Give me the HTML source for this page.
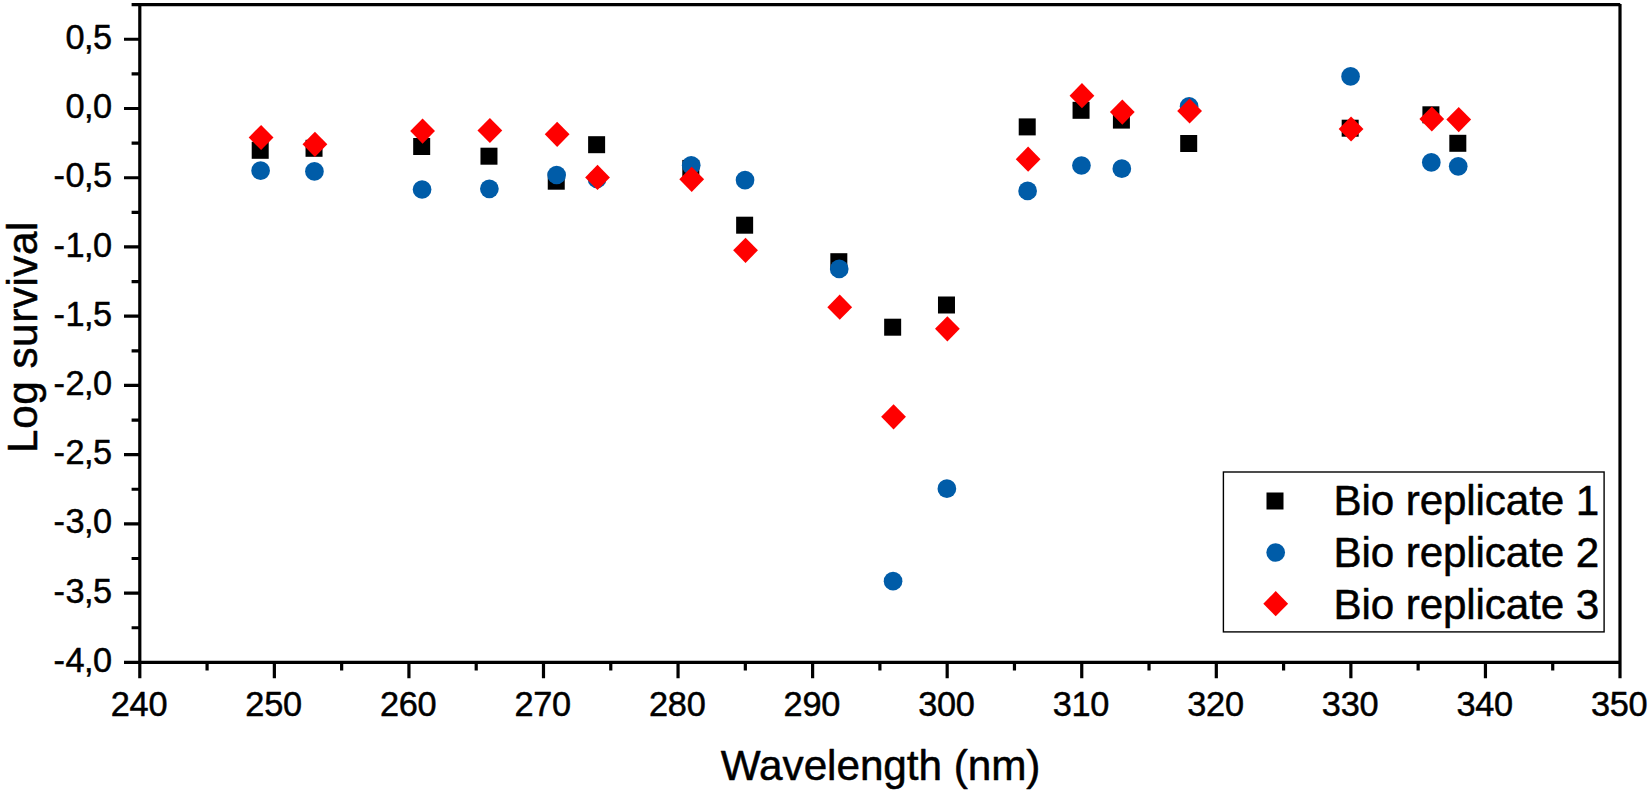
<!DOCTYPE html>
<html lang="en"><head><meta charset="utf-8"><title>Log survival vs wavelength</title>
<style>html,body{margin:0;padding:0;background:#fff;overflow:hidden}svg{display:block}text{font-family:"Liberation Sans",Arial,Helvetica,sans-serif;fill:#000;stroke:#000;stroke-width:0.5px;stroke-linejoin:round}</style>
</head><body>
<svg width="1650" height="792" viewBox="0 0 1650 792">
<rect x="0" y="0" width="1650" height="792" fill="#fff"/>
<g stroke="#000" stroke-width="3.2" fill="none" stroke-linecap="butt">
<path d="M131.60000000000002 4.65H1620.2"/>
<path d="M1620.0 3.95V678.15"/>
<path d="M139.8 3.0500000000000003V678.15"/>
<path d="M124.00000000000001 662.35H1620.0"/>
</g>
<g stroke="#000" stroke-width="3.2" fill="none">
<path d="M124.00 39.27H139.8M131.60 73.88H139.8M124.00 108.50H139.8M131.60 143.11H139.8M124.00 177.73H139.8M131.60 212.34H139.8M124.00 246.96H139.8M131.60 281.58H139.8M124.00 316.19H139.8M131.60 350.81H139.8M124.00 385.42H139.8M131.60 420.04H139.8M124.00 454.66H139.8M131.60 489.27H139.8M124.00 523.89H139.8M131.60 558.50H139.8M124.00 593.12H139.8M131.60 627.73H139.8"/>
<path d="M207.08 662.35V670.55M274.36 662.35V678.15M341.65 662.35V670.55M408.93 662.35V678.15M476.21 662.35V670.55M543.49 662.35V678.15M610.77 662.35V670.55M678.05 662.35V678.15M745.34 662.35V670.55M812.62 662.35V678.15M879.90 662.35V670.55M947.18 662.35V678.15M1014.46 662.35V670.55M1081.75 662.35V678.15M1149.03 662.35V670.55M1216.31 662.35V678.15M1283.59 662.35V670.55M1350.87 662.35V678.15M1418.15 662.35V670.55M1485.44 662.35V678.15M1552.72 662.35V670.55"/>
</g>
<g font-size="34.3" text-anchor="end" letter-spacing="-0.6">
<text x="111.4" y="48.87">0,5</text>
<text x="111.4" y="118.10">0,0</text>
<text x="111.4" y="187.33">-<tspan dx="1.3">0,5</tspan></text>
<text x="111.4" y="256.56">-<tspan dx="1.3">1,0</tspan></text>
<text x="111.4" y="325.79">-<tspan dx="1.3">1,5</tspan></text>
<text x="111.4" y="395.02">-<tspan dx="1.3">2,0</tspan></text>
<text x="111.4" y="464.26">-<tspan dx="1.3">2,5</tspan></text>
<text x="111.4" y="533.49">-<tspan dx="1.3">3,0</tspan></text>
<text x="111.4" y="602.72">-<tspan dx="1.3">3,5</tspan></text>
<text x="111.4" y="671.95">-<tspan dx="1.3">4,0</tspan></text>
</g>
<g font-size="34.3" text-anchor="middle" letter-spacing="-0.25">
<text x="139.00" y="715.6">240</text>
<text x="273.56" y="715.6">250</text>
<text x="408.13" y="715.6">260</text>
<text x="542.69" y="715.6">270</text>
<text x="677.25" y="715.6">280</text>
<text x="811.82" y="715.6">290</text>
<text x="946.38" y="715.6">300</text>
<text x="1080.95" y="715.6">310</text>
<text x="1215.51" y="715.6">320</text>
<text x="1350.07" y="715.6">330</text>
<text x="1484.64" y="715.6">340</text>
<text x="1619.20" y="715.6">350</text>
</g>
<text x="720.8" y="779.9" font-size="42.3" textLength="319.6" lengthAdjust="spacing">Wavelength (nm)</text>
<text transform="translate(36.9 452.9) rotate(-90)" font-size="42.3" textLength="231.3" lengthAdjust="spacing">Log survival</text>
<g fill="#000">
<rect x="251.71" y="141.80" width="17.0" height="17.0"/>
<rect x="305.53" y="139.80" width="17.0" height="17.0"/>
<rect x="413.18" y="138.00" width="17.0" height="17.0"/>
<rect x="480.47" y="147.70" width="17.0" height="17.0"/>
<rect x="547.75" y="172.70" width="17.0" height="17.0"/>
<rect x="588.12" y="136.20" width="17.0" height="17.0"/>
<rect x="682.31" y="159.90" width="17.0" height="17.0"/>
<rect x="736.14" y="216.70" width="17.0" height="17.0"/>
<rect x="830.33" y="253.20" width="17.0" height="17.0"/>
<rect x="884.16" y="318.70" width="17.0" height="17.0"/>
<rect x="937.98" y="296.50" width="17.0" height="17.0"/>
<rect x="1018.72" y="118.40" width="17.0" height="17.0"/>
<rect x="1072.55" y="101.80" width="17.0" height="17.0"/>
<rect x="1112.91" y="111.60" width="17.0" height="17.0"/>
<rect x="1180.20" y="135.00" width="17.0" height="17.0"/>
<rect x="1341.67" y="119.70" width="17.0" height="17.0"/>
<rect x="1422.41" y="106.30" width="17.0" height="17.0"/>
<rect x="1449.32" y="134.80" width="17.0" height="17.0"/>
</g>
<g fill="#005CA8">
<circle cx="260.61" cy="170.70" r="9.35"/>
<circle cx="314.43" cy="171.40" r="9.35"/>
<circle cx="422.08" cy="189.50" r="9.35"/>
<circle cx="489.37" cy="188.80" r="9.35"/>
<circle cx="556.65" cy="175.00" r="9.35"/>
<circle cx="597.02" cy="179.00" r="9.35"/>
<circle cx="691.21" cy="165.30" r="9.35"/>
<circle cx="745.04" cy="180.10" r="9.35"/>
<circle cx="839.23" cy="268.90" r="9.35"/>
<circle cx="893.06" cy="581.20" r="9.35"/>
<circle cx="946.88" cy="488.70" r="9.35"/>
<circle cx="1027.62" cy="190.90" r="9.35"/>
<circle cx="1081.45" cy="165.50" r="9.35"/>
<circle cx="1121.81" cy="168.70" r="9.35"/>
<circle cx="1189.10" cy="106.30" r="9.35"/>
<circle cx="1350.57" cy="76.40" r="9.35"/>
<circle cx="1431.31" cy="162.40" r="9.35"/>
<circle cx="1458.22" cy="166.30" r="9.35"/>
</g>
<g fill="#FF0000">
<path d="M261.11 124.90L273.51 137.50L261.11 150.10L248.71 137.50Z"/>
<path d="M314.93 131.70L327.33 144.30L314.93 156.90L302.53 144.30Z"/>
<path d="M422.58 118.50L434.98 131.10L422.58 143.70L410.18 131.10Z"/>
<path d="M489.87 117.90L502.27 130.50L489.87 143.10L477.47 130.50Z"/>
<path d="M557.15 121.70L569.55 134.30L557.15 146.90L544.75 134.30Z"/>
<path d="M597.52 164.80L609.92 177.40L597.52 190.00L585.12 177.40Z"/>
<path d="M691.71 166.70L704.11 179.30L691.71 191.90L679.31 179.30Z"/>
<path d="M745.54 237.70L757.94 250.30L745.54 262.90L733.14 250.30Z"/>
<path d="M839.73 294.60L852.13 307.20L839.73 319.80L827.33 307.20Z"/>
<path d="M893.56 404.20L905.96 416.80L893.56 429.40L881.16 416.80Z"/>
<path d="M947.38 316.20L959.78 328.80L947.38 341.40L934.98 328.80Z"/>
<path d="M1028.12 146.60L1040.52 159.20L1028.12 171.80L1015.72 159.20Z"/>
<path d="M1081.95 83.10L1094.35 95.70L1081.95 108.30L1069.55 95.70Z"/>
<path d="M1122.31 99.50L1134.71 112.10L1122.31 124.70L1109.91 112.10Z"/>
<path d="M1189.60 98.40L1202.00 111.00L1189.60 123.60L1177.20 111.00Z"/>
<path d="M1351.07 116.40L1363.47 129.00L1351.07 141.60L1338.67 129.00Z"/>
<path d="M1431.81 106.40L1444.21 119.00L1431.81 131.60L1419.41 119.00Z"/>
<path d="M1458.72 107.00L1471.12 119.60L1458.72 132.20L1446.32 119.60Z"/>
</g>
<rect x="1223.4" y="472.0" width="380.7" height="159.9" fill="#fff" stroke="#000" stroke-width="1.4"/>
<rect x="1266.50" y="492.5" width="17.0" height="17.0" fill="#000"/>
<circle cx="1275.7" cy="552.5" r="9.35" fill="#005CA8"/>
<path d="M1275.7 591.1L1288.1000000000001 603.7L1275.7 616.3000000000001L1263.3 603.7Z" fill="#FF0000"/>
<g font-size="42.2" letter-spacing="-0.12">
<text x="1333.5" y="515.3">Bio replicate 1</text>
<text x="1333.5" y="567.0">Bio replicate 2</text>
<text x="1333.5" y="618.6">Bio replicate 3</text>
</g>
</svg>
</body></html>
